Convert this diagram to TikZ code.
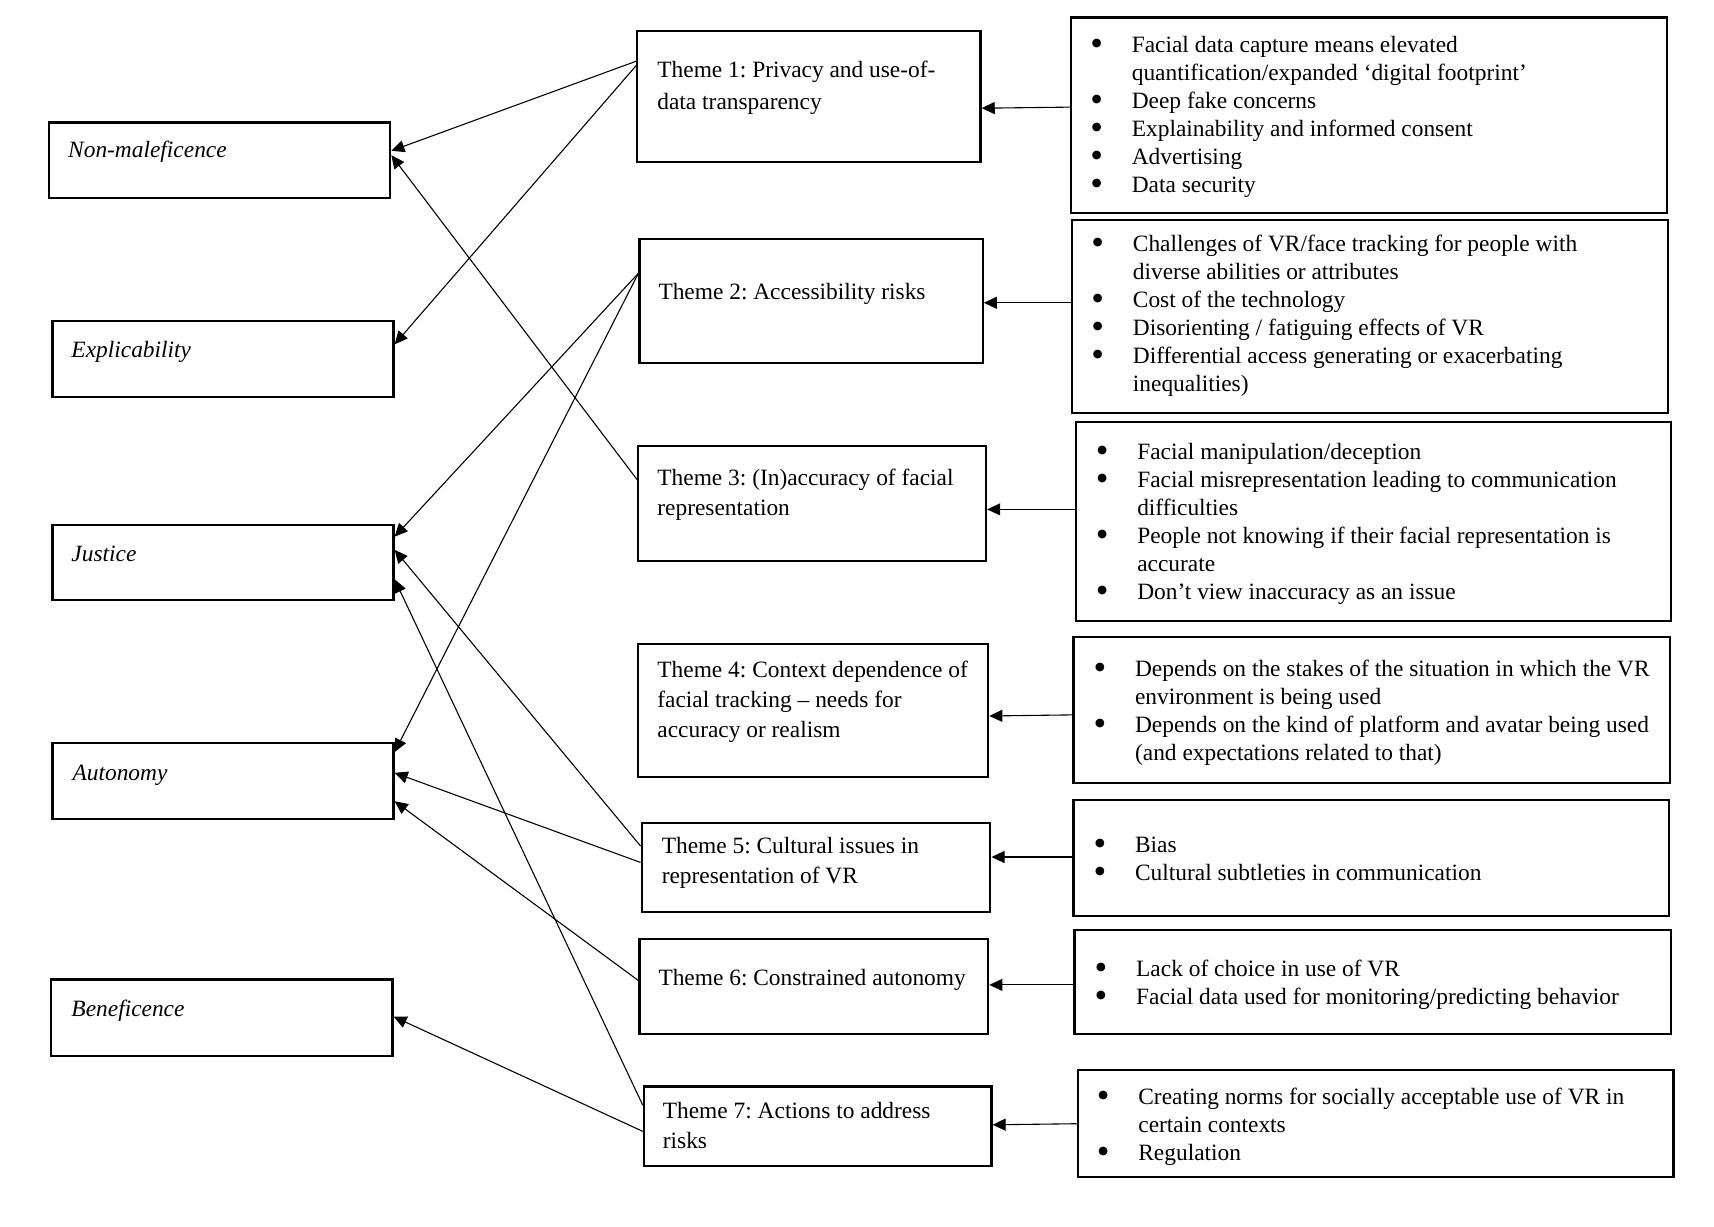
\documentclass[tikz,border=0pt]{standalone}
\usepackage{fontspec}
\usepackage{graphicx}
\setmainfont{Liberation Serif}
\frenchspacing
\usetikzlibrary{arrows.meta,calc,fit}
\newcommand{\bul}{\makebox[19pt][l]{\raisebox{-0.13em}{\scalebox{1.55}{\textbullet}}}}
\begin{document}
\begin{tikzpicture}[x=0.5pt,y=-0.5pt,
  boxst/.style={draw, line width=1pt, inner sep=0pt},
  conn/.style={line width=0.5pt, -{Triangle[length=6pt,width=5.5pt]}},
  txt/.style={anchor=base west, inner sep=0pt, font=\fontsize{10.7}{13.75}\selectfont},
  btxt/.style={anchor=base west, inner sep=0pt, font=\fontsize{10.7}{12.8}\selectfont}]
\useasboundingbox (0,-2) rectangle (1568,1119.6);
% principle boxes
\node[boxst, fit={(45,110) (357,179)}] (nm) {};
\node[boxst, fit={(48,292) (360,361)}] (ex) {};
\node[boxst, fit={(48,478) (360,547)}] (ju) {};
\node[boxst, fit={(48,678) (360,747)}] (au) {};
\node[boxst, fit={(47,894) (359,964)}] (be) {};
\node[txt] (nmt) at (62,142) {\textit{Non-maleficence}};
\node[txt] (ext) at (65,325) {\textit{Explicability}};
\node[txt] (jut) at (65,512) {\textit{Justice}};
\node[txt] (aut) at (66,712) {\textit{Autonomy}};
\node[txt] (bet) at (65,928) {\textit{Beneficence}};
% theme boxes
\node[boxst, fit={(583,26) (897,146)}] (t1) {};
\node[boxst, fit={(585,217) (899,330)}] (t2) {};
\node[boxst, fit={(584,406) (902,511)}] (t3) {};
\node[boxst, fit={(584,587) (904,709)}] (t4) {};
\node[boxst, fit={(587,751) (906,832)}] (t5) {};
\node[boxst, fit={(585,857) (904,944)}] (t6) {};
\node[boxst, fit={(589,992) (907,1065)}] (t7) {};
\node[txt] (t1t) at (601,69) {\begin{tabular}[t]{@{}l@{}}Theme 1: Privacy and use-of-\\[0.75pt]data transparency\end{tabular}};
\node[txt] (t2t) at (602,272) {Theme 2: Accessibility risks};
\node[txt] (t3t) at (601,442) {\begin{tabular}[t]{@{}l@{}}Theme 3: (In)accuracy of facial\\representation\end{tabular}};
\node[txt] (t4t) at (601,618) {\begin{tabular}[t]{@{}l@{}}Theme 4: Context dependence of\\facial tracking – needs for\\accuracy or realism\end{tabular}};
\node[txt] (t5t) at (605,779) {\begin{tabular}[t]{@{}l@{}}Theme 5: Cultural issues in\\representation of VR\end{tabular}};
\node[txt] (t6t) at (602,900) {Theme 6: Constrained autonomy};
\node[txt] (t7t) at (606,1021) {\begin{tabular}[t]{@{}l@{}}Theme 7: Actions to address\\risks\end{tabular}};
% right boxes
\node[boxst, fit={(980,14) (1525,193)}] (r1) {};
\node[boxst, fit={(981,199) (1526,376)}] (r2) {};
\node[boxst, fit={(984,384) (1529,566)}] (r3) {};
\node[boxst, fit={(982,581) (1528,714)}] (r4) {};
\node[boxst, fit={(982,730) (1527,836)}] (r5) {};
\node[boxst, fit={(983,849) (1529,944)}] (r6) {};
\node[boxst, fit={(986,977) (1531,1075)}] (r7) {};
\node[btxt] (r1t) at (997,46) {\begin{tabular}[t]{@{}l@{}l@{}}
\bul & Facial data capture means elevated\\
 & quantification/expanded ‘digital footprint’\\
\bul & Deep fake concerns\\
\bul & Explainability and informed consent\\
\bul & Advertising\\
\bul & Data security\end{tabular}};
\node[btxt] (r2t) at (998,228) {\begin{tabular}[t]{@{}l@{}l@{}}
\bul & Challenges of VR/face tracking for people with\\
 & diverse abilities or attributes\\
\bul & Cost of the technology\\
\bul & Disorienting / fatiguing effects of VR\\
\bul & Differential access generating or exacerbating\\
 & inequalities)\end{tabular}};
\node[btxt] (r3t) at (1002,418) {\begin{tabular}[t]{@{}l@{}l@{}}
\bul & Facial manipulation/deception\\
\bul & Facial misrepresentation leading to communication\\
 & difficulties\\
\bul & People not knowing if their facial representation is\\
 & accurate\\
\bul & Don’t view inaccuracy as an issue\end{tabular}};
\node[btxt] (r4t) at (1000,617) {\begin{tabular}[t]{@{}l@{}l@{}}
\bul & Depends on the stakes of the situation in which the VR\\
 & environment is being used\\
\bul & Depends on the kind of platform and avatar being used\\
 & (and expectations related to that)\end{tabular}};
\node[btxt] (r5t) at (1000,778) {\begin{tabular}[t]{@{}l@{}l@{}}
\bul & Bias\\
\bul & Cultural subtleties in communication\end{tabular}};
\node[btxt] (r6t) at (1001,891) {\begin{tabular}[t]{@{}l@{}l@{}}
\bul & Lack of choice in use of VR\\
\bul & Facial data used for monitoring/predicting behavior\end{tabular}};
\node[btxt] (r7t) at (1003,1008) {\begin{tabular}[t]{@{}l@{}l@{}}
\bul & Creating norms for socially acceptable use of VR in\\
 & certain contexts\\
\bul & Regulation\end{tabular}};
% right -> theme
\draw[conn] ($(r1.north west)+(0,83)$) -- ($(t1.north east)+(0,72)$);
\draw[conn] ($(r2.north west)+(0,77)$) -- ($(t2.north east)+(0,59)$);
\draw[conn] ($(r3.north west)+(0,81)$) -- ($(t3.north east)+(0,59)$);
\draw[conn] ($(r4.north west)+(0,72)$) -- ($(t4.north east)+(0,67)$);
\draw[conn] ($(r5.north west)+(0,53)$) -- ($(t5.north east)+(0,32)$);
\draw[conn] ($(r6.north west)+(0,51)$) -- ($(t6.north east)+(0,43)$);
\draw[conn] ($(r7.north west)+(0,50)$) -- ($(t7.north east)+(0,36)$);
% theme -> principles
\draw[conn] ($(t1.north west)+(0,29)$) -- ($(nm.north east)+(0,27)$);
\draw[conn] ($(t1.north west)+(0,33)$) -- ($(ex.north east)+(0,22)$);
\draw[conn] ($(t2.north west)+(0,32)$) -- ($(ju.north east)+(0,12)$);
\draw[conn] ($(t2.north west)+(0,32)$) -- ($(au.north east)+(0,9)$);
\draw[conn] ($(t3.north west)+(0,32)$) -- ($(nm.north east)+(0,31)$);
\draw[conn] ($(t5.north west)+(0,22)$) -- ($(ju.north east)+(0,24)$);
\draw[conn] ($(t5.north west)+(0,37)$) -- ($(au.north east)+(0,28)$);
\draw[conn] ($(t6.north west)+(0,39)$) -- ($(au.north east)+(0,54)$);
\draw[conn] ($(t7.north west)+(0,18)$) -- ($(ju.north east)+(0,51)$);
\draw[conn] ($(t7.north west)+(0,42)$) -- ($(be.north east)+(0,35)$);
\end{tikzpicture}
\end{document}
